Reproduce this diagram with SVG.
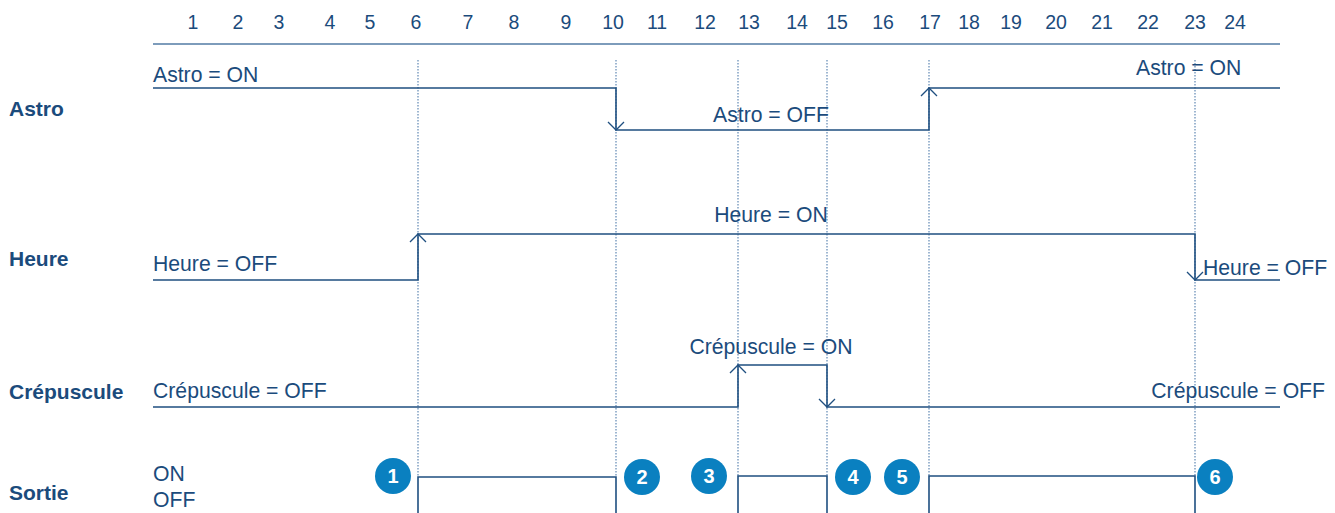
<svg xmlns="http://www.w3.org/2000/svg" width="1335" height="513" viewBox="0 0 1335 513">
<defs>
<style>
text{font-family:"Liberation Sans",Arial,sans-serif;fill:#1b4b7c}
.t{font-size:21.2px}
.n{font-size:19.5px;text-anchor:middle}
.b{font-size:21px;font-weight:bold}
.c{font-size:20px;font-weight:bold;fill:#fff;text-anchor:middle}
.sig{fill:none;stroke:#1f4f80;stroke-width:1.6}
.dot{stroke:#5f87b3;stroke-width:1.2;stroke-dasharray:1.5 1.5}
.ax{stroke:#7d9cbb;stroke-width:2}
.circ{fill:#0a80c0}
</style>
</defs>
<g id="axis">
<line class="ax" x1="153" y1="44" x2="1280" y2="44"/>
<text class="n" x="193" y="29">1</text><text class="n" x="238" y="29">2</text><text class="n" x="279" y="29">3</text><text class="n" x="330" y="29">4</text><text class="n" x="370" y="29">5</text><text class="n" x="416" y="29">6</text><text class="n" x="468" y="29">7</text><text class="n" x="514" y="29">8</text><text class="n" x="566" y="29">9</text><text class="n" x="613" y="29">10</text><text class="n" x="657" y="29">11</text><text class="n" x="705" y="29">12</text><text class="n" x="749" y="29">13</text><text class="n" x="797" y="29">14</text><text class="n" x="837" y="29">15</text><text class="n" x="883" y="29">16</text><text class="n" x="930" y="29">17</text><text class="n" x="969" y="29">18</text><text class="n" x="1011" y="29">19</text><text class="n" x="1056" y="29">20</text><text class="n" x="1102" y="29">21</text><text class="n" x="1148" y="29">22</text><text class="n" x="1195" y="29">23</text><text class="n" x="1235" y="29">24</text>
</g>
<g id="gridlines">
<line class="dot" x1="418" y1="60" x2="418" y2="476"/>
<line class="dot" x1="616" y1="60" x2="616" y2="476"/>
<line class="dot" x1="738" y1="60" x2="738" y2="476"/>
<line class="dot" x1="827" y1="60" x2="827" y2="476"/>
<line class="dot" x1="929" y1="60" x2="929" y2="476"/>
<line class="dot" x1="1195" y1="60" x2="1195" y2="476"/>
</g>
<g id="labels">
<text class="b" x="9" y="116">Astro</text>
<text class="b" x="9" y="266">Heure</text>
<text class="b" x="9" y="399">Crépuscule</text>
<text class="b" x="9" y="500">Sortie</text>
</g>
<g id="connectors">
<path class="sig" d="M153,88 H616 V130 H929 V88 H1280"/>
<path class="sig" d="M153,280 H418 V234 H1195 V280 H1280"/>
<path class="sig" d="M153,407 H738 V365 H827 V407 H1280"/>
<path class="sig" d="M418,513 V477 H616 V513"/>
<path class="sig" d="M738,513 V476 H827 V513"/>
<path class="sig" d="M929,513 V476 H1195 V513"/>
</g>
<g id="arrows" fill="none" stroke="#1f4f80" stroke-width="1.3">
<path d="M608,122 L616,130 L624,122"/>
<path d="M921,96 L929,88 L937,96"/>
<path d="M410,242 L418,234 L426,242"/>
<path d="M1187,272 L1195,280 L1203,272"/>
<path d="M730,373 L738,365 L746,373"/>
<path d="M819,399 L827,407 L835,399"/>
</g>
<g id="texts">
<text class="t" x="153" y="82">Astro = ON</text>
<text class="t" x="771" y="122" text-anchor="middle">Astro = OFF</text>
<text class="t" x="1136" y="75">Astro = ON</text>
<text class="t" x="771" y="222" text-anchor="middle">Heure = ON</text>
<text class="t" x="153" y="271">Heure = OFF</text>
<text class="t" x="1203" y="275">Heure = OFF</text>
<text class="t" x="771" y="354" text-anchor="middle">Crépuscule = ON</text>
<text class="t" x="153" y="398">Crépuscule = OFF</text>
<text class="t" x="1325" y="398" text-anchor="end">Crépuscule = OFF</text>
<text class="t" x="153" y="481">ON</text>
<text class="t" x="153" y="507">OFF</text>
</g>
<g id="n1"><circle class="circ" cx="393" cy="476" r="18"/><text class="c" x="393" y="483">1</text></g>
<g id="n2"><circle class="circ" cx="642" cy="477" r="18"/><text class="c" x="642" y="484">2</text></g>
<g id="n3"><circle class="circ" cx="709" cy="476" r="18"/><text class="c" x="709" y="483">3</text></g>
<g id="n4"><circle class="circ" cx="853" cy="477" r="18"/><text class="c" x="853" y="484">4</text></g>
<g id="n5"><circle class="circ" cx="902" cy="477" r="18"/><text class="c" x="902" y="484">5</text></g>
<g id="n6"><circle class="circ" cx="1215" cy="477" r="18"/><text class="c" x="1215" y="484">6</text></g>
</svg>
